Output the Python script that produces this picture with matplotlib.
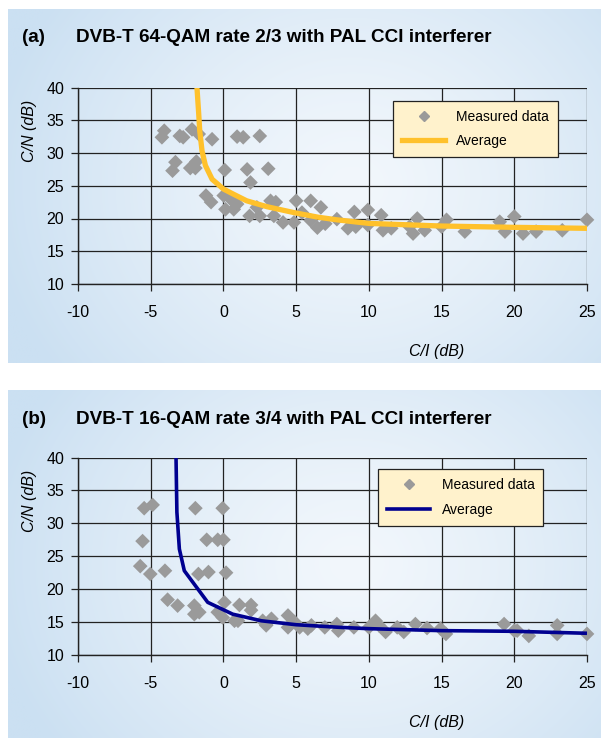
import numpy as np
import matplotlib
matplotlib.use("Agg")
import matplotlib.pyplot as plt
from matplotlib.lines import Line2D

plt.rcParams['font.family'] = ['Liberation Sans', 'DejaVu Sans']
plt.rcParams['axes.unicode_minus'] = False

# ---------------- data ----------------
meas_a_x = [-4.07, -4.23, -3.0, -2.77, -2.16, -1.7, -0.78, 0.94, 1.36, 2.5,
            -3.3, -3.5, -2.28, -1.93, -1.86, 0.09, 1.63, 3.08,
            1.86,
            -1.2, -0.85, 0.02, 0.14, 0.71, 0.48, 0.94,
            1.8, 2.3, 2.5, 3.24, 3.6, 3.47,
            4.1, 4.85, 5.0, 5.4, 6.0, 6.0, 6.46, 6.7, 7.0, 7.8,
            8.56, 9.0, 9.1, 9.93, 9.93, 10.85, 10.97, 11.54, 12.8, 13.04,
            13.33, 13.84, 15.0, 15.34, 16.6, 19.0, 19.36, 20.0, 20.6, 21.5,
            23.3, 25.0]
meas_a_y = [33.4, 32.4, 32.6, 32.4, 33.6, 32.9, 32.1, 32.5, 32.4, 32.6,
            28.6, 27.3, 27.7, 27.7, 28.7, 27.4, 27.5, 27.6,
            25.5,
            23.5, 22.5, 23.5, 21.4, 21.4, 23.0, 22.2,
            20.4, 21.7, 20.4, 22.7, 22.5, 20.4,
            19.4, 19.4, 22.7, 20.9, 22.7, 19.7, 18.6, 21.7, 19.2, 19.9,
            18.5, 21.0, 18.75, 21.3, 19.0, 20.5, 18.2, 18.5, 18.75, 17.7,
            20.0, 18.2, 18.75, 19.8, 18.0, 19.5, 18.0, 20.3, 17.7, 18.0,
            18.2, 19.8]
avg_a_x = [-1.82, -1.7, -1.63, -1.47, -1.24, -0.78, 0.0, 0.7, 1.6, 3.0,
           4.85, 6.5, 7.8, 10.0, 15.0, 20.0, 25.0]
avg_a_y = [40.0, 36.0, 33.4, 30.3, 28.1, 26.0, 24.5, 23.7, 22.7, 21.8,
           20.9, 20.2, 19.8, 19.25, 18.85, 18.65, 18.5]

meas_b_x = [-5.45, -4.87, -5.56, -5.72, -5.03, -4.02, -3.84, -3.15, -2.0, -2.0,
            -1.66, -1.93, -1.15, -0.39, 0.0, -0.05, -1.72, -1.03, 0.18, 0.07,
            -0.39, -0.05, 0.76, 1.0, 1.1, 1.9, 1.9, 2.7, 2.94, 3.3,
            4.44, 4.44, 4.9, 5.24, 5.8, 6.05, 6.97, 7.8, 7.9,
            8.97, 10.0, 10.46, 10.7, 11.15, 11.95, 12.4, 13.2, 14.0, 14.93,
            15.3, 19.3, 20.0, 20.2, 21.0, 22.95, 22.95, 25.0]
meas_b_y = [32.3, 32.8, 27.3, 23.5, 22.3, 22.8, 18.4, 17.5, 17.5, 16.2,
            16.5, 32.3, 27.5, 27.5, 27.5, 32.3, 22.3, 22.6, 22.5, 18.0,
            16.5, 15.7, 15.2, 15.2, 17.6, 17.6, 16.8, 15.2, 14.5, 15.5,
            16.0, 14.2, 15.0, 14.2, 14.0, 14.5, 14.2, 14.7, 13.7,
            14.2, 14.2, 15.2, 14.5, 13.5, 14.2, 13.5, 14.7, 14.1, 14.0,
            13.2, 14.7, 13.7, 13.7, 12.9, 14.5, 13.2, 13.2]
avg_b_x = [-3.26, -3.2, -3.03, -2.69, -1.08, 0.64, 2.6, 5.0, 8.0, 10.0, 15.0, 20.0, 25.0]
avg_b_y = [40.0, 31.7, 26.1, 22.8, 18.0, 16.2, 15.2, 14.6, 14.2, 14.0, 13.7, 13.6, 13.3]

x_ticks = [-10, -5, 0, 5, 10, 15, 20, 25]
y_ticks = [10, 15, 20, 25, 30, 35, 40]
titles = ["DVB-T 64-QAM rate 2/3 with PAL CCI interferer",
          "DVB-T 16-QAM rate 3/4 with PAL CCI interferer"]
panel_tags = ["(a)", "(b)"]
legend_labels = ["Measured data", "Average"]

# ---------------- figure ----------------
W, H = 601, 738
fig = plt.figure(figsize=(W / 100, H / 100), dpi=100)

def fx(px):
    return px / W

def fy(py):
    return 1 - py / H

edge = np.array([203, 224, 242]) / 255.0
center = np.array([242, 247, 252]) / 255.0

def background(top, bottom):
    bg = fig.add_axes([fx(8), fy(bottom), fx(W - 8), (bottom - top) / H], zorder=-5)
    gx = np.linspace(0, 1, 300)
    gy = np.linspace(0, 1, 200)
    X, Y = np.meshgrid(gx, gy)
    t = np.sqrt(((X - 0.58) / 0.62) ** 2 + ((Y - 0.5) / 0.9) ** 2)
    t = np.clip(t, 0, 1) ** 1.3
    img = center[None, None, :] * (1 - t[..., None]) + edge[None, None, :] * t[..., None]
    bg.imshow(img, aspect='auto', extent=[0, 1, 0, 1], interpolation='bilinear')
    bg.set_axis_off()

panels = [
    dict(top=9, bottom=363, ax_top=87.5, ax_bot=284, title_y=38,
         mx=meas_a_x, my=meas_a_y, ax_x=avg_a_x, ax_y=avg_a_y,
         color='#FFC12B', lw=3.8, leg=(0.619, 0.933)),
    dict(top=390, bottom=738, ax_top=457.5, ax_bot=655, title_y=419,
         mx=meas_b_x, my=meas_b_y, ax_x=avg_b_x, ax_y=avg_b_y,
         color='#000090', lw=2.6, leg=(0.590, 0.941)),
]

for i, p in enumerate(panels):
    background(p['top'], p['bottom'])
    fig.text(fx(22), fy(p['title_y']), panel_tags[i], fontsize=13.6,
             fontweight='bold', va='center', ha='left')
    fig.text(fx(76), fy(p['title_y']), titles[i], fontsize=13.6,
             fontweight='bold', va='center', ha='left')

    ax = fig.add_axes([fx(78), fy(p['ax_bot']), fx(587 - 78), (p['ax_bot'] - p['ax_top']) / H])
    ax.set_facecolor('none')
    ax.set_xlim(-10, 25)
    ax.set_ylim(10, 40)
    ax.set_xticks(x_ticks)
    ax.set_yticks(y_ticks)
    ax.grid(True, color='#222222', linewidth=0.9)
    ax.set_axisbelow(True)
    for s in ['top', 'right']:
        ax.spines[s].set_visible(False)
    for s in ['left', 'bottom']:
        ax.spines[s].set_color('#222222')
        ax.spines[s].set_linewidth(1.0)
    ax.tick_params(direction='out', length=5, width=0.9, color='#222222',
                   labelsize=11.5)
    ax.tick_params(axis='x', pad=10)
    ax.tick_params(axis='y', pad=5)
    ax.scatter(p['mx'], p['my'], marker='D', s=56, color='#9A9A9A',
               edgecolors='none', zorder=3, clip_on=False)
    ax.plot(p['ax_x'], p['ax_y'], color=p['color'], lw=p['lw'], zorder=4,
            solid_joinstyle='round', solid_capstyle='butt')
    ax.set_xlabel("C/I (dB)", fontsize=11.5, style='italic')
    ax.xaxis.set_label_coords(0.705, -0.305)
    ax.set_ylabel("C/N (dB)", fontsize=11.5, style='italic')
    ax.yaxis.set_label_coords(-0.08, 0.78)

    handles = [Line2D([], [], marker='D', ls='none', color='#9A9A9A', markersize=5.5),
               Line2D([], [], color=p['color'], lw=p['lw'])]
    leg = ax.legend(handles, legend_labels, loc='upper left', bbox_to_anchor=p['leg'],
                    fontsize=10, frameon=True, fancybox=False, framealpha=1,
                    facecolor='#FFF2CC', edgecolor='#222222', handlelength=3.1,
                    handletextpad=0.8, borderpad=0.65, labelspacing=0.75, borderaxespad=0)
    leg.get_frame().set_linewidth(0.9)
    leg.set_zorder(6)

fig.savefig("out.png", dpi=100)
